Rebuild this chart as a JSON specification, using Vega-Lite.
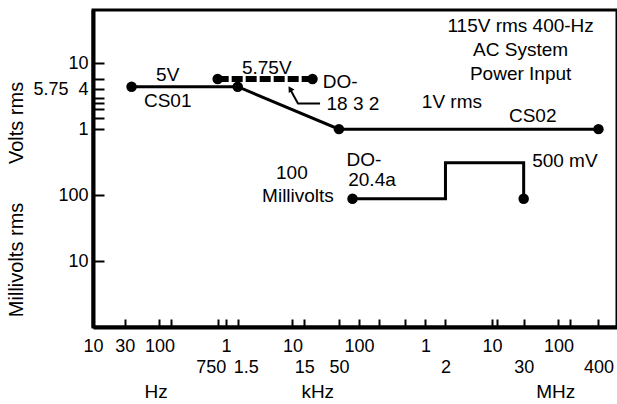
{
  "$schema": "https://vega.github.io/schema/vega-lite/v6.json",
  "autosize": "none",
  "padding": {"left": 93, "top": 10, "right": 0, "bottom": 77},
  "width": 524,
  "height": 317,
  "background": "white",
  "config": {
    "view": {"stroke": "black", "strokeWidth": 3},
    "axis": {"grid": false, "domainColor": "black", "domainWidth": 4, "tickColor": "black", "tickWidth": 2, "labelColor": "black", "labelFont": "Liberation Sans", "labelFontSize": 18, "titleFont": "Liberation Sans"},
    "text": {"font": "Liberation Sans", "fontSize": 19, "color": "black"}
  },
  "datasets": {
    "lines": [
      {"series": "CS01", "i": 1, "f": 38, "v": 4.4},
      {"series": "CS01", "i": 2, "f": 1500, "v": 4.4},
      {"series": "CS01", "i": 3, "f": 50000, "v": 1},
      {"series": "CS01", "i": 4, "f": 400000000, "v": 1},
      {"series": "DO-160 20.4a", "i": 1, "f": 80000, "v": 0.088},
      {"series": "DO-160 20.4a", "i": 2, "f": 2000000, "v": 0.088},
      {"series": "DO-160 20.4a", "i": 3, "f": 2000000, "v": 0.31},
      {"series": "DO-160 20.4a", "i": 4, "f": 30000000, "v": 0.31},
      {"series": "DO-160 20.4a", "i": 5, "f": 30000000, "v": 0.088}
    ],
    "dashed": [
      {"f": 750, "v": 5.75},
      {"f": 20000, "v": 5.75}
    ],
    "dots": [
      {"f": 38, "v": 4.4},
      {"f": 1500, "v": 4.4},
      {"f": 50000, "v": 1},
      {"f": 400000000, "v": 1},
      {"f": 750, "v": 5.75},
      {"f": 20000, "v": 5.75},
      {"f": 80000, "v": 0.088},
      {"f": 30000000, "v": 0.088}
    ],
    "leader": [
      {"i": 1, "f": 26000, "v": 2.45},
      {"i": 2, "f": 12100, "v": 2.45},
      {"i": 3, "f": 9400, "v": 3.9}
    ],
    "arrow": [
      {"f": 9200, "v": 4.1}
    ],
    "notes": [
      {"f": 133, "v": 6.7, "t": "5V"},
      {"f": 133, "v": 2.67, "t": "CS01"},
      {"f": 4100, "v": 8.45, "t": "5.75V"},
      {"f": 52000, "v": 5.17, "t": "DO-"},
      {"f": 81000, "v": 2.4, "t": "18 3 2"},
      {"f": 2500000, "v": 2.58, "t": "1V rms"},
      {"f": 41000000, "v": 1.58, "t": "CS02"},
      {"f": 27000000, "v": 36.6, "t": "115V rms 400-Hz"},
      {"f": 27000000, "v": 15.9, "t": "AC System"},
      {"f": 27000000, "v": 6.85, "t": "Power Input"},
      {"f": 119000, "v": 0.34, "t": "DO-"},
      {"f": 157000, "v": 0.17, "t": "20.4a"},
      {"f": 9800, "v": 0.216, "t": "100"},
      {"f": 12100, "v": 0.097, "t": "Millivolts"},
      {"f": 125000000, "v": 0.33, "t": "500 mV"},
      {"f": 89, "v": 0.000103, "t": "Hz"},
      {"f": 24000, "v": 0.000103, "t": "kHz"},
      {"f": 91000000, "v": 0.000103, "t": "MHz"}
    ],
    "ytitles": [
      {"f": 0.72, "v": 1.24, "t": "Volts rms"},
      {"f": 0.72, "v": 0.0104, "t": "Millivolts rms"}
    ]
  },
  "encoding": {
    "x": {
      "field": "f", "type": "quantitative",
      "scale": {"type": "log", "domain": [10, 760000000], "nice": false},
      "axis": {
        "title": null,
        "values": [10, 30, 100, 150, 750, 1000, 1500, 10000, 15000, 50000, 100000, 200000, 500000, 1000000, 2000000, 10000000, 12000000, 30000000, 100000000, 150000000, 400000000],
        "labelExpr": "datum.value == 10 ? '10' : datum.value == 30 ? '30' : datum.value == 100 ? '100' : datum.value == 750 ? ['\u00a0', '750'] : datum.value == 1000 ? '1' : datum.value == 1500 ? ['\u00a0', '1.5'] : datum.value == 10000 ? '10' : datum.value == 15000 ? ['\u00a0', '15'] : datum.value == 50000 ? ['\u00a0', '50'] : datum.value == 100000 ? '100' : datum.value == 1000000 ? '1' : datum.value == 2000000 ? ['\u00a0', '2'] : datum.value == 10000000 ? '10' : datum.value == 30000000 ? ['\u00a0', '30'] : datum.value == 100000000 ? '100' : datum.value == 400000000 ? ['\u00a0', '400'] : ''",
        "labelOffset": {"condition": [{"test": "datum.value == 750", "value": -7}, {"test": "datum.value == 1500", "value": 8}], "value": 0},
        "labelLineHeight": 21,
        "labelOverlap": false,
        "labelFlush": false,
        "labelPadding": 18,
        "tickSize": -8
      }
    },
    "y": {
      "field": "v", "type": "quantitative",
      "scale": {"type": "log", "domain": [0.001, 64], "nice": false},
      "axis": {
        "title": null,
        "values": [10, 5.75, 4, 3, 2.5, 2, 1.5, 1, 0.1, 0.01],
        "labelExpr": "datum.value == 10 ? '10' : datum.value == 4 ? '5.75\u00a0\u00a04' : datum.value == 1 ? '1' : datum.value == 0.1 ? '100' : datum.value == 0.01 ? '10' : ''",
        "labelOverlap": false,
        "labelFlush": false,
        "labelPadding": 16,
        "tickSize": -11
      }
    }
  },
  "layer": [
    {
      "data": {"name": "lines"},
      "mark": {"type": "line", "color": "black", "strokeWidth": 3},
      "encoding": {"detail": {"field": "series"}, "order": {"field": "i"}}
    },
    {
      "data": {"name": "dashed"},
      "mark": {"type": "line", "color": "black", "strokeWidth": 6, "strokeDash": [11, 3]},
      "encoding": {}
    },
    {
      "data": {"name": "leader"},
      "mark": {"type": "line", "color": "black", "strokeWidth": 2},
      "encoding": {"order": {"field": "i"}}
    },
    {
      "data": {"name": "arrow"},
      "mark": {"type": "point", "shape": "triangle-up", "filled": true, "color": "black", "size": 45, "angle": -32, "opacity": 1}
    },
    {
      "data": {"name": "dots"},
      "mark": {"type": "point", "shape": "circle", "filled": true, "color": "black", "size": 110, "opacity": 1}
    },
    {
      "data": {"name": "notes"},
      "mark": {"type": "text", "align": "center", "baseline": "middle"},
      "encoding": {"text": {"field": "t"}}
    },
    {
      "data": {"name": "ytitles"},
      "mark": {"type": "text", "align": "center", "baseline": "middle", "angle": 270, "fontSize": 20},
      "encoding": {"text": {"field": "t"}}
    }
  ]
}
